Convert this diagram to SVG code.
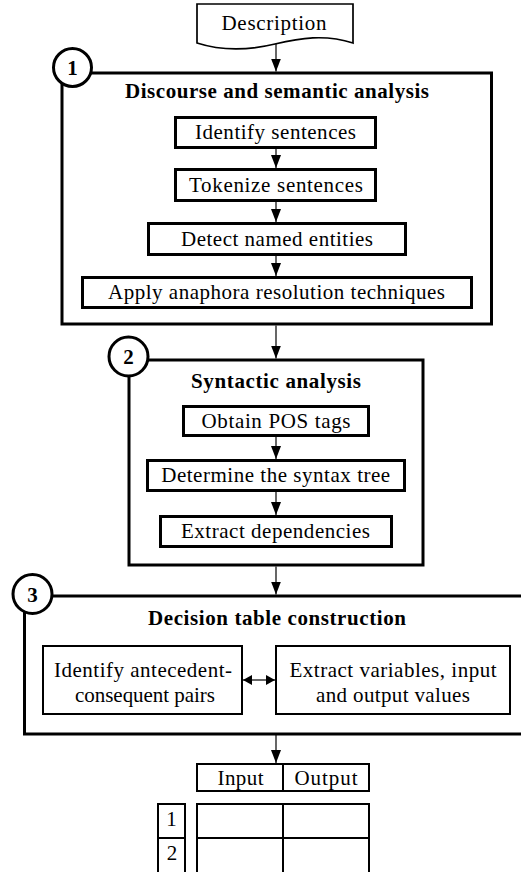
<svg xmlns="http://www.w3.org/2000/svg" width="521" height="872" viewBox="0 0 521 872">
<style>
text{font-family:'Liberation Serif','Times New Roman',Times,'DejaVu Serif','Noto Serif',serif;font-size:21px;fill:#000;text-anchor:middle}
.b{font-weight:bold}
.big{fill:none;stroke:#000;stroke-width:3}
.box{fill:#fff;stroke:#000;stroke-width:3}
.box2{fill:#fff;stroke:#000;stroke-width:2}
.tbl{fill:none;stroke:#000;stroke-width:2}
.num{fill:#fff;stroke:#000;stroke-width:3}
.con{fill:none;stroke:#000;stroke-width:1.2}
</style>
<defs>
<marker id="ah" markerUnits="userSpaceOnUse" markerWidth="13" markerHeight="10" refX="13" refY="5" orient="auto">
<path d="M0,0 L13,5 L0,10 Z" fill="#000"/>
</marker>
<marker id="ahs" markerUnits="userSpaceOnUse" markerWidth="9" markerHeight="10" refX="9" refY="5" orient="auto-start-reverse">
<path d="M0,0 L9,5 L0,10 Z" fill="#000"/>
</marker>
</defs>
<rect width="521" height="872" fill="#fff"/>

<g id="description">
<path d="M197,4 H353 V43 C325,34 300,38 275,44 C250,50 225,52 197,43 Z" fill="#fff" stroke="#000" stroke-width="1.7"/>
<text x="274" y="30" textLength="105">Description</text>
</g>

<g id="section1">
<rect class="big" x="62" y="73" width="429.5" height="251"/>
<text class="b" x="277" y="98" textLength="304">Discourse and semantic analysis</text>
</g>
<g id="identify-sentences">
<rect class="box" x="175.5" y="117.5" width="200" height="30"/>
<text x="275.5" y="139" textLength="161">Identify sentences</text>
</g>
<g id="tokenize-sentences">
<rect class="box" x="175.5" y="169.5" width="200" height="31"/>
<text x="276" y="192" textLength="174">Tokenize sentences</text>
</g>
<g id="detect-entities">
<rect class="box" x="148.5" y="223.5" width="257" height="31"/>
<text x="277" y="246" textLength="192">Detect named entities</text>
</g>
<g id="anaphora">
<rect class="box" x="82.5" y="277.5" width="389" height="30"/>
<text x="276.5" y="299" textLength="337">Apply anaphora resolution techniques</text>
</g>

<g id="section2">
<rect class="big" x="129" y="360" width="294" height="205"/>
<text class="b" x="276" y="388" textLength="170">Syntactic analysis</text>
</g>
<g id="pos-tags">
<rect class="box" x="183.5" y="406.5" width="185" height="29"/>
<text x="276" y="428" textLength="149">Obtain POS tags</text>
</g>
<g id="syntax-tree">
<rect class="box" x="147.5" y="460.5" width="257" height="30"/>
<text x="275.7" y="482" textLength="229">Determine the syntax tree</text>
</g>
<g id="dependencies">
<rect class="box" x="160.5" y="516.5" width="231" height="30"/>
<text x="275.5" y="538" textLength="189">Extract dependencies</text>
</g>

<g id="section3">
<rect class="big" x="24.5" y="596" width="520" height="138"/>
<text class="b" x="277" y="625" textLength="258">Decision table construction</text>
</g>
<g id="pairs">
<rect class="box2" x="43" y="646" width="199" height="68"/>
<text x="143" y="676.5" textLength="178">Identify antecedent-</text>
<text x="145" y="702" textLength="140">consequent pairs</text>
</g>
<g id="variables">
<rect class="box2" x="276" y="646" width="234" height="68"/>
<text x="393" y="676.5" textLength="207">Extract variables, input</text>
<text x="393" y="702" textLength="154">and output values</text>
</g>

<g id="decision-table">
<rect class="tbl" x="197" y="764" width="172" height="27"/>
<line class="tbl" x1="283" y1="764" x2="283" y2="791"/>
<text x="240.5" y="785" textLength="46">Input</text>
<text x="326" y="785" textLength="63">Output</text>
<rect class="tbl" x="197" y="804" width="172" height="100"/>
<line class="tbl" x1="283" y1="804" x2="283" y2="904"/>
<line class="tbl" x1="197" y1="838" x2="369" y2="838"/>
<rect class="tbl" x="158" y="804" width="27" height="100"/>
<line class="tbl" x1="158" y1="838" x2="185" y2="838"/>
<text x="171.5" y="826">1</text>
<text x="172" y="860">2</text>
</g>

<g id="step1">
<circle class="num" cx="72.5" cy="67.5" r="19"/>
<text class="b" x="72.5" y="75">1</text>
</g>
<g id="step2">
<circle class="num" cx="128.5" cy="356.5" r="19.5"/>
<text class="b" x="128.5" y="364">2</text>
</g>
<g id="step3">
<circle class="num" cx="32.5" cy="594" r="19.5"/>
<text class="b" x="32.5" y="601.5">3</text>
</g>

<g id="connectors">
<line class="con" x1="276" y1="44" x2="276" y2="71.5" marker-end="url(#ah)"/>
<line class="con" x1="276" y1="149" x2="276" y2="168" marker-end="url(#ah)"/>
<line class="con" x1="276" y1="202" x2="276" y2="222" marker-end="url(#ah)"/>
<line class="con" x1="276" y1="256" x2="276" y2="276" marker-end="url(#ah)"/>
<line class="con" x1="276" y1="325.5" x2="276" y2="358.5" marker-end="url(#ah)"/>
<line class="con" x1="276" y1="437" x2="276" y2="459" marker-end="url(#ah)"/>
<line class="con" x1="276" y1="492" x2="276" y2="515" marker-end="url(#ah)"/>
<line class="con" x1="276" y1="566.5" x2="276" y2="594.5" marker-end="url(#ah)"/>
<line class="con" x1="243" y1="680" x2="275" y2="680" marker-start="url(#ahs)" marker-end="url(#ahs)"/>
<line class="con" x1="276" y1="735" x2="276" y2="763" marker-end="url(#ah)"/>
</g>
</svg>
